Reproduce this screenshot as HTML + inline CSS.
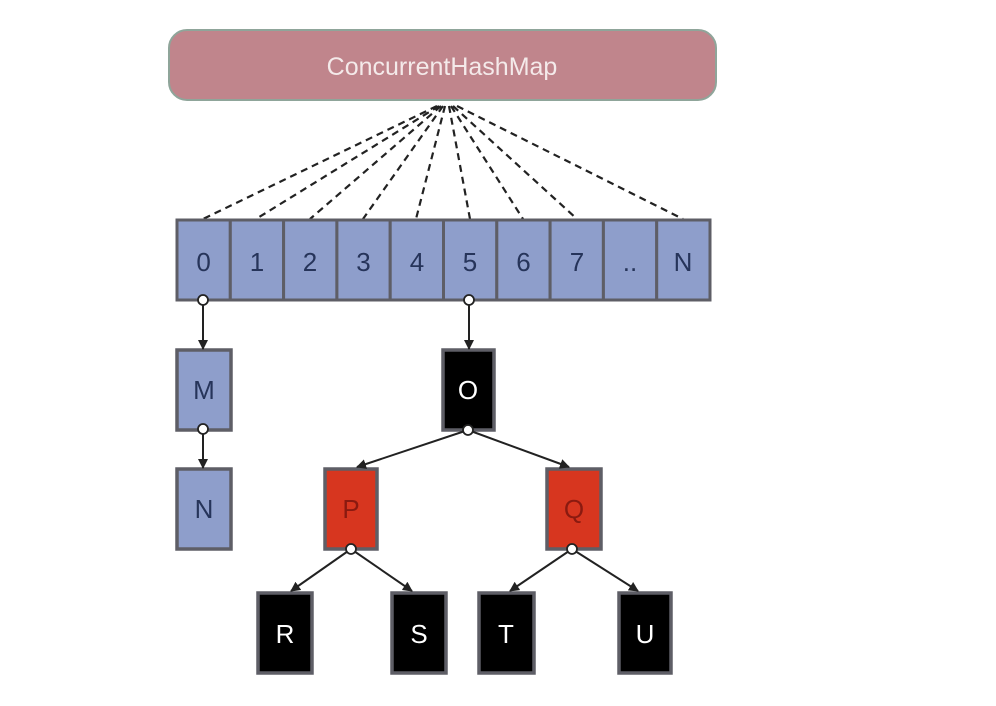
<!DOCTYPE html>
<html><head><meta charset="utf-8"><style>
html,body{margin:0;padding:0;background:#fff;}
svg{display:block;}
text{font-family:"Liberation Sans",Arial,sans-serif;}
</style></head><body>
<svg width="996" height="706" viewBox="0 0 996 706" xmlns="http://www.w3.org/2000/svg">
<defs>
<marker id="ah" markerWidth="10" markerHeight="10" refX="9" refY="5" orient="auto" markerUnits="userSpaceOnUse">
<path d="M0,0 L10,5 L0,10 z" fill="#222"/>
</marker>
</defs>
<rect x="0" y="0" width="996" height="706" fill="#fff"/>
<!-- header -->
<rect x="169" y="30" width="547" height="70" rx="18" fill="#c0858c" stroke="#8fa59a" stroke-width="2"/>
<text x="442" y="75" font-size="25" fill="#f4eaea" text-anchor="middle">ConcurrentHashMap</text>
<!-- dashed lines -->
<g stroke="#222" stroke-width="2.2" stroke-dasharray="7,5" fill="none">
<line x1="437" y1="106" x2="203" y2="219"/>
<line x1="439" y1="106" x2="256" y2="219"/>
<line x1="441" y1="106" x2="310" y2="219"/>
<line x1="443" y1="106" x2="363" y2="219"/>
<line x1="445" y1="106" x2="416" y2="219"/>
<line x1="449" y1="106" x2="470" y2="219"/>
<line x1="451" y1="106" x2="523" y2="219"/>
<line x1="453" y1="106" x2="577" y2="219"/>
<line x1="457" y1="106" x2="683" y2="219"/>
</g>
<!-- array -->
<g stroke="#5e5e66" stroke-width="3" fill="#8e9ecb">
<rect x="177" y="220" width="53.3" height="80"/>
<rect x="230.3" y="220" width="53.3" height="80"/>
<rect x="283.6" y="220" width="53.3" height="80"/>
<rect x="336.9" y="220" width="53.3" height="80"/>
<rect x="390.2" y="220" width="53.3" height="80"/>
<rect x="443.5" y="220" width="53.3" height="80"/>
<rect x="496.8" y="220" width="53.3" height="80"/>
<rect x="550.1" y="220" width="53.3" height="80"/>
<rect x="603.4" y="220" width="53.3" height="80"/>
<rect x="656.7" y="220" width="53.3" height="80"/>
</g>
<g font-size="26" fill="#26345a" text-anchor="middle">
<text x="203.6" y="271">0</text><text x="257" y="271">1</text><text x="310" y="271">2</text>
<text x="363.5" y="271">3</text><text x="417" y="271">4</text><text x="470" y="271">5</text>
<text x="523.5" y="271">6</text><text x="577" y="271">7</text><text x="630" y="271">..</text>
<text x="683" y="271">N</text>
</g>
<!-- nodes -->
<g stroke="#5e5e66" stroke-width="3.5">
<rect x="177" y="350" width="54" height="80" fill="#8e9ecb"/>
<rect x="177" y="469" width="54" height="80" fill="#8e9ecb"/>
<rect x="443" y="350" width="51" height="80" fill="#000"/>
<rect x="325" y="469" width="52" height="80" fill="#d7361f"/>
<rect x="547" y="469" width="54" height="80" fill="#d7361f"/>
<rect x="258" y="593" width="54" height="80" fill="#000"/>
<rect x="392" y="593" width="54" height="80" fill="#000"/>
<rect x="479" y="593" width="55" height="80" fill="#000"/>
<rect x="619" y="593" width="52" height="80" fill="#000"/>
</g>
<g font-size="26" text-anchor="middle">
<text x="204" y="399" fill="#26345a">M</text>
<text x="204" y="518" fill="#26345a">N</text>
<text x="468" y="399" fill="#fff">O</text>
<text x="351" y="518" fill="#8a1a10">P</text>
<text x="574" y="518" fill="#8a1a10">Q</text>
<text x="285" y="643" fill="#fff">R</text>
<text x="419" y="643" fill="#fff">S</text>
<text x="506" y="643" fill="#fff">T</text>
<text x="645" y="643" fill="#fff">U</text>
</g>
<!-- arrows -->
<g stroke="#222" stroke-width="2" marker-end="url(#ah)">
<line x1="203" y1="305" x2="203" y2="349"/>
<line x1="469" y1="305" x2="469" y2="349"/>
<line x1="203" y1="433" x2="203" y2="468"/>
<line x1="468" y1="430" x2="357" y2="467"/>
<line x1="468" y1="430" x2="569" y2="467"/>
<line x1="351" y1="549" x2="291" y2="591"/>
<line x1="351" y1="549" x2="412" y2="591"/>
<line x1="572" y1="549" x2="510" y2="591"/>
<line x1="572" y1="549" x2="638" y2="591"/>
</g>
<g fill="#fff" stroke="#222" stroke-width="1.8">
<circle cx="203" cy="300" r="5"/>
<circle cx="469" cy="300" r="5"/>
<circle cx="203" cy="429" r="5"/>
<circle cx="468" cy="430" r="5"/>
<circle cx="351" cy="549" r="5"/>
<circle cx="572" cy="549" r="5"/>
</g>
</svg>
</body></html>
